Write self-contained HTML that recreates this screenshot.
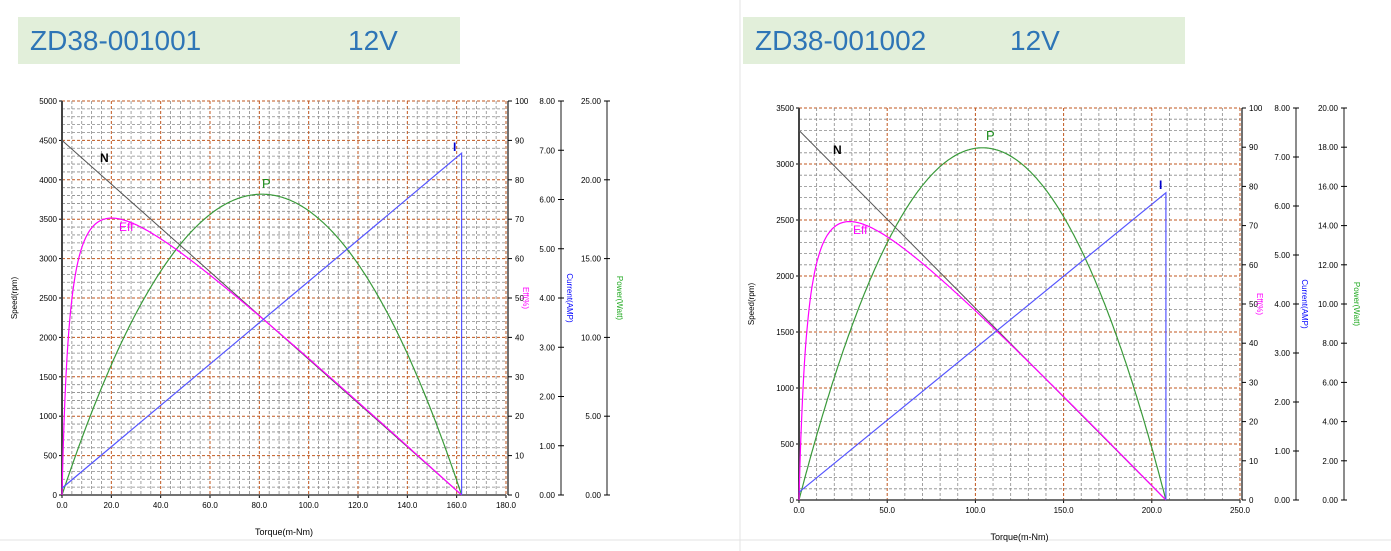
<!DOCTYPE html>
<html><head><meta charset="utf-8"><style>
body{margin:0;background:#fff;width:1391px;height:551px;overflow:hidden;font-family:"Liberation Sans",sans-serif}
svg{position:absolute;left:0;top:0}
</style></head><body>
<svg id="s" width="1391" height="551" xmlns="http://www.w3.org/2000/svg"></svg>
<script>
const s=document.getElementById('s');let h='';
h+='<line x1="740" y1="0" x2="740" y2="551" stroke="#e3e3e3"/>';
h+='<line x1="0" y1="540" x2="1391" y2="540" stroke="#e3e3e3"/>';
function chart(o){
 const {x0,x1,y0,y1,xmax,xmaj,xmin,ymax,ymaj,ymin,ca,pa,pmax,pstep,Nmax,Ts,Is,I0,title,tx2,bx,labels}=o;
 const X=t=>x0+(x1-x0)*t/xmax, Y=v=>y0-(y0-y1)*v/ymax;
 h+=`<rect x="${bx}" y="17" width="442" height="47" fill="#e2efda"/>`;
 h+=`<text x="${bx+12}" y="50" font-size="28" fill="#2e75b6">${title}</text><text x="${tx2}" y="50" font-size="28" fill="#2e75b6">12V</text>`;
 for(let v=0;v<=ymax+1e-6;v+=ymin){const y=Y(v);const maj=Math.abs(v/ymaj-Math.round(v/ymaj))<1e-6;
  h+=`<line x1="${x0}" y1="${y}" x2="${x1}" y2="${y}" stroke="${maj?'#c0571f':'#8a8a8a'}" stroke-width="${maj?1:0.8}" stroke-dasharray="3,2"/>`;
  if(maj){h+=`<text x="${x0-5}" y="${y+3}" font-size="8" text-anchor="end">${v}</text><line x1="${x0-3}" y1="${y}" x2="${x0}" y2="${y}" stroke="#000"/>`;}}
 for(let t=0;t<=xmax+1e-6;t+=xmin){const x=X(t);const maj=Math.abs(t/xmaj-Math.round(t/xmaj))<1e-6;
  h+=`<line x1="${x}" y1="${y1}" x2="${x}" y2="${y0}" stroke="${maj?'#c0571f':'#8a8a8a'}" stroke-width="${maj?1:0.8}" stroke-dasharray="3,2"/>`;
  if(maj)h+=`<text x="${x}" y="${y0+13}" font-size="8" text-anchor="middle">${t.toFixed(1)}</text><line x1="${x}" y1="${y0}" x2="${x}" y2="${y0+3}" stroke="#000"/>`;}
 h+=`<line x1="${x0}" y1="${y1}" x2="${x0}" y2="${y0}" stroke="#444" stroke-width="2"/><line x1="${x0}" y1="${y0}" x2="${x1}" y2="${y0}" stroke="#444" stroke-width="1.5"/>`;
 h+=`<line x1="${x1+2}" y1="${y1}" x2="${x1+2}" y2="${y0}" stroke="#444" stroke-width="1.5"/>`;
 for(let e=0;e<=100;e+=10){const y=y0-(y0-y1)*e/100;h+=`<line x1="${x1+2}" y1="${y}" x2="${x1+6}" y2="${y}" stroke="#000"/><text x="${x1+9}" y="${y+3}" font-size="8">${e}</text>`;}
 h+=`<line x1="${ca}" y1="${y1}" x2="${ca}" y2="${y0}" stroke="#666" stroke-width="1.5"/>`;
 for(let c=0;c<=8;c++){const y=y0-(y0-y1)*c/8;h+=`<line x1="${ca-3}" y1="${y}" x2="${ca+3}" y2="${y}" stroke="#000"/><text x="${ca-6}" y="${y+3}" font-size="8" text-anchor="end">${c.toFixed(2)}</text>`;}
 h+=`<line x1="${pa}" y1="${y1}" x2="${pa}" y2="${y0}" stroke="#666" stroke-width="1.5"/>`;
 for(let p=0;p<=pmax+1e-6;p+=pstep){const y=y0-(y0-y1)*p/pmax;h+=`<line x1="${pa-3}" y1="${y}" x2="${pa+3}" y2="${y}" stroke="#000"/><text x="${pa-6}" y="${y+3}" font-size="8" text-anchor="end">${p.toFixed(2)}</text>`;}
 const my=(y0+y1)/2;
 h+=`<text transform="translate(${x0-45},${my}) rotate(-90)" font-size="8" text-anchor="middle">Speed(rpm)</text>`;
 h+=`<text transform="translate(${x1+17},${my}) rotate(90)" font-size="8" text-anchor="middle" fill="#f0f">Eff(%)</text>`;
 h+=`<text transform="translate(${ca+6},${my}) rotate(90)" font-size="8" text-anchor="middle" fill="#00f">Current(AMP)</text>`;
 h+=`<text transform="translate(${pa+10},${my}) rotate(90)" font-size="8" text-anchor="middle" fill="#2a2">Power(Watt)</text>`;
 h+=`<text x="${o.xl/2+x0}" y="${y0+40}" font-size="9" text-anchor="middle">Torque(m-Nm)</text>`;
 const CY=c=>y0-(y0-y1)*c/8, PY=p=>y0-(y0-y1)*p/pmax, EY=e=>y0-(y0-y1)*e;
 let pp=[],ep=[];
 for(let i=0;i<=400;i++){const t=Ts*i/400;const n=Nmax*(1-t/Ts);const P=t/1000*n*2*Math.PI/60;const I=I0+(Is-I0)*t/Ts;
  pp.push(X(t).toFixed(1)+','+PY(P).toFixed(1));ep.push(X(t).toFixed(1)+','+EY(P/(12*I)).toFixed(1));}
 h+=`<line x1="${x0}" y1="${Y(Nmax)}" x2="${X(Ts)}" y2="${y0}" stroke="#555" stroke-width="1"/>`;
 h+=`<polyline points="${pp.join(' ')}" fill="none" stroke="#3a9a3a" stroke-width="1.2"/>`;
 h+=`<polyline points="${ep.join(' ')}" fill="none" stroke="#f0f" stroke-width="1.2"/>`;
 h+=`<polyline points="${x0},${CY(I0)} ${X(Ts)},${CY(Is)} ${X(Ts)},${y0}" fill="none" stroke="#55f" stroke-width="1.2"/>`;
 const L=labels;
 h+=`<text x="${L[0][0]}" y="${L[0][1]}" font-size="12" font-weight="bold">N</text><text x="${L[1][0]}" y="${L[1][1]}" font-size="12" fill="#f0f">Eff</text><text x="${L[2][0]}" y="${L[2][1]}" font-size="13" fill="#1a8a1a">P</text><text x="${L[3][0]}" y="${L[3][1]}" font-size="12" fill="#00c" font-weight="bold">I</text>`;
}
chart({x0:62,x1:506,xl:444,y0:495,y1:101,xmax:180,xmaj:20,xmin:4,ymax:5000,ymaj:500,ymin:100,ca:561,pa:607,pmax:25,pstep:5,Nmax:4500,Ts:162,Is:6.94,I0:0.14,title:"ZD38-001001",tx2:348,bx:18,labels:[[100,162],[119,231],[262,188],[453,151]]});
chart({x0:799,x1:1240,xl:441,y0:500,y1:108,xmax:250,xmaj:50,xmin:10,ymax:3500,ymaj:500,ymin:100,ca:1296,pa:1344,pmax:20,pstep:2,Nmax:3300,Ts:208,Is:6.27,I0:0.16,title:"ZD38-001002",tx2:1010,bx:743,labels:[[833,154],[853,234],[986,140],[1159,189]]});
s.innerHTML=h;
</script>
</body></html>
